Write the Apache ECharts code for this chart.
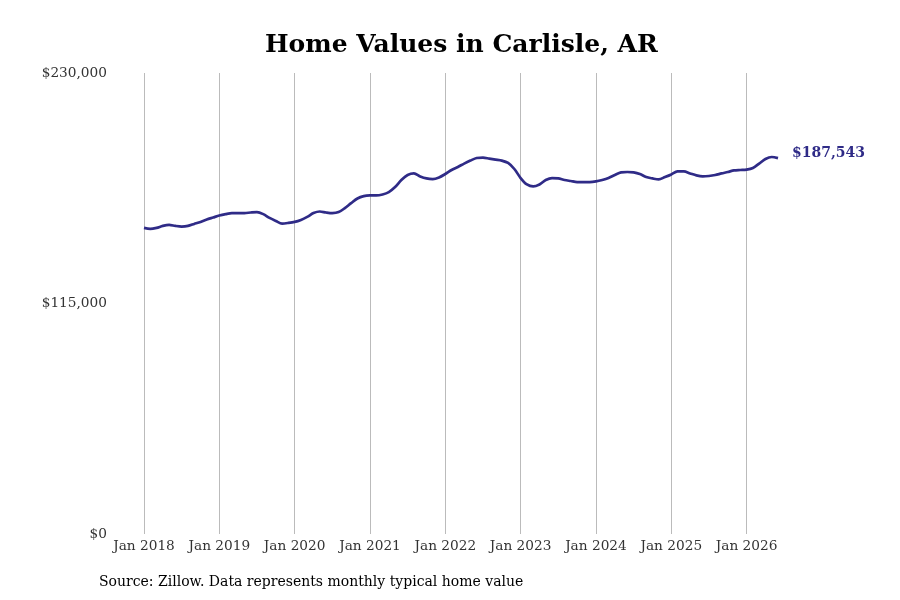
<!DOCTYPE html>
<html>
<head>
<meta charset="utf-8">
<script src="https://cdn.jsdelivr.net/npm/echarts@6/dist/echarts.min.js"></script>
<style>
html,body{margin:0;padding:0;background:#fff;}
#chart{width:900px;height:600px;}
</style>
</head>
<body>
<div id="chart"></div>
<script>
const years = [2018,2019,2020,2021,2022,2023,2024,2025,2026];
const monthNames = ['Jan','Feb','Mar','Apr','May','Jun','Jul','Aug','Sep','Oct','Nov','Dec'];
const values = [
  152700,152200,152700,153700,154200,153700,153400,153700,154700,155700,156900,157900,
  158900,159600,160100,160100,160100,160400,160600,159600,157700,156200,154900,155200,
  155700,156700,158200,160100,160900,160400,160100,160600,162600,165100,167400,168600,
  168900,168900,169400,170600,173100,176600,179100,179900,178400,177400,177100,177900,
  179600,181600,183100,184800,186300,187600,187800,187300,186800,186300,185100,182100,
  177600,174400,173400,174400,176600,177600,177400,176600,176100,175600,175600,175600,
  175900,176600,177600,179100,180400,180600,180400,179600,178100,177400,176900,178100,
  179400,180900,180900,179900,178900,178400,178600,179100,179900,180600,181400,181600,
  181800,182600,184800,187100,188100,187543
];
const categories = values.map((v,i)=> monthNames[i%12] + ' ' + years[Math.floor(i/12)]);
const yTicks = [0,115000,230000];
const endLabelText = '$187,543';
const titleText = 'Home Values in Carlisle, AR';
const sourceText = 'Source: Zillow. Data represents monthly typical home value';

const chart = echarts.init(document.getElementById('chart'));
const isJan = (idx) => idx % 12 === 0;
chart.setOption({
  animation:false,
  title:{
    text:titleText,
    left:260, top:28,
    textStyle:{fontFamily:'DejaVu Serif',fontWeight:'bold',fontSize:25,color:'#000'}
  },
  graphic:[{
    type:'text', left:99, top:575,
    style:{text:sourceText, font:'14px "DejaVu Serif"', fill:'#000'}
  }],
  grid:{left:144,right:122,top:73,bottom:66,containLabel:false},
  xAxis:{
    type:'category',
    data:categories,
    boundaryGap:false,
    axisLine:{show:false},
    axisTick:{show:false},
    axisLabel:{
      interval:(idx)=>isJan(idx),
      formatter:(v)=>v,
      fontFamily:'DejaVu Serif',fontSize:13.7,color:'#333',margin:5
    },
    splitLine:{show:true,interval:(idx)=>isJan(idx),lineStyle:{color:'#bbb',width:1}}
  },
  yAxis:{
    type:'value',
    min:0,max:230000,interval:115000,
    axisLine:{show:false},
    axisTick:{show:false},
    splitLine:{show:false},
    axisLabel:{
      formatter:(v)=>'$'+v.toLocaleString('en-US'),
      fontFamily:'DejaVu Serif',fontSize:13.7,color:'#333',margin:37,
      padding:[3,0,0,0]
    }
  },
  series:[{
    type:'line',
    data:values,
    smooth:0.3,
    showSymbol:false,
    lineStyle:{color:'#2f2b87',width:2.7},
    itemStyle:{color:'#2f2b87'},
    endLabel:{
      show:true,
      formatter:()=>endLabelText,
      distance:14,
      offset:[0,-5],
      fontFamily:'DejaVu Serif',fontWeight:'bold',fontSize:14,color:'#2f2b87'
    }
  }]
});
</script>
</body>
</html>
